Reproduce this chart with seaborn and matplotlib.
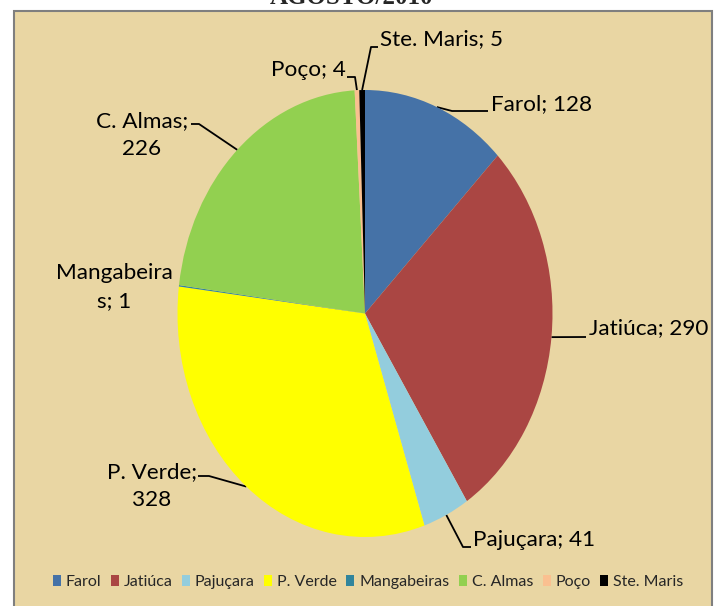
import numpy as np
import matplotlib
matplotlib.use("Agg")
import matplotlib.pyplot as plt
from matplotlib.patches import Rectangle, Patch
import seaborn as sns

# ---- data ----
categories = ["Farol", "Jatiúca", "Pajuçara", "P. Verde", "Mangabeiras", "C. Almas", "Poço", "Ste. Maris"]
values = [128, 290, 41, 328, 1, 226, 4, 5]
colors_hex = ["#4572A7", "#AA4643", "#93CDDD", "#FFFF00", "#31859C", "#92D050", "#FAC090", "#000000"]
title = "AGOSTO/2010"

# ---- style ----
sns.set_theme(style="white")
plt.rcParams["font.family"] = ["Lato", "DejaVu Sans"]
palette = sns.color_palette(colors_hex)

W, H = 717, 606
fig = plt.figure(figsize=(W / 100, H / 100), dpi=100, facecolor="white")

# full-figure overlay axes in pixel coordinates (background, labels, leaders)
bg = fig.add_axes([0, 0, 1, 1], zorder=0)
bg.set_xlim(0, W)
bg.set_ylim(H, 0)
bg.axis("off")
bg.add_patch(Rectangle((14, 11), 698, 600, facecolor="#E9D6A3", edgecolor="#7F7F7F", lw=1.5))

# pie geometry (pixels): elliptical pie
cx, cy, rx, ry = 365.0, 313.5, 187.5, 223.5
pie_ax = fig.add_axes([(cx - rx) / W, (H - (cy + ry)) / H, 2 * rx / W, 2 * ry / H], zorder=1)
pie_ax.patch.set_alpha(0)
wedges, _ = pie_ax.pie(values, colors=palette, startangle=90, counterclock=False,
                       radius=1, wedgeprops=dict(linewidth=0))
pie_ax.set_aspect("auto")
pie_ax.set_xlim(-1, 1)
pie_ax.set_ylim(-1, 1)
pie_ax.axis("off")

# label layout: (text x, text y, ha, leader path after edge point)
wrap = {"Mangabeiras": "Mangabeira\ns; 1", "C. Almas": "C. Almas;\n226", "P. Verde": "P. Verde;\n328"}
layout = {
    "Farol": (491, 104, "left", [(452, 111), (488, 111)]),
    "Jatiúca": (589, 328, "left", [(586, 337)]),
    "Pajuçara": (473, 540, "left", [(463, 547), (471, 547)]),
    "P. Verde": (152, 486, "center", [(209, 476), (198, 476)]),
    "Mangabeiras": (114, 287, "center", None),
    "C. Almas": (142, 135, "center", [(199, 124), (191, 124)]),
    "Poço": (346, 70, "right", [(355, 77), (347, 77)]),
    "Ste. Maris": (380, 39, "left", [(371, 47), (378, 47)]),
}

for w, name, val in zip(wedges, categories, values):
    mid = np.deg2rad((w.theta1 + w.theta2) / 2)
    ex, ey = cx + rx * np.cos(mid), cy - ry * np.sin(mid)
    tx, ty, ha, path = layout[name]
    txt = wrap.get(name, f"{name}; {val}")
    bg.text(tx, ty, txt, ha=ha, va="center", fontsize=16.2, color="black",
            linespacing=1.5, multialignment="center")
    if path:
        xs = [ex] + [p[0] for p in path]
        ys = [ey] + [p[1] for p in path]
        bg.plot(xs, ys, color="black", lw=1.3, solid_capstyle="butt")

# title (cut off at top as in reference)
fig.text(351 / W, 1 - 4 / H, title, ha="center", va="baseline", fontsize=18,
         fontweight="bold", family=["Liberation Serif", "DejaVu Serif"])

# legend
handles = [Patch(facecolor=c, edgecolor="none") for c in palette]
fig.legend(handles, categories, loc="center", bbox_to_anchor=(368 / W, 1 - 582 / H),
           ncol=len(categories), frameon=False, fontsize=11.5, handlelength=0.5,
           handleheight=0.75, handletextpad=0.3, columnspacing=0.6, borderaxespad=0)

fig.savefig("out.png", dpi=100, facecolor="white")
